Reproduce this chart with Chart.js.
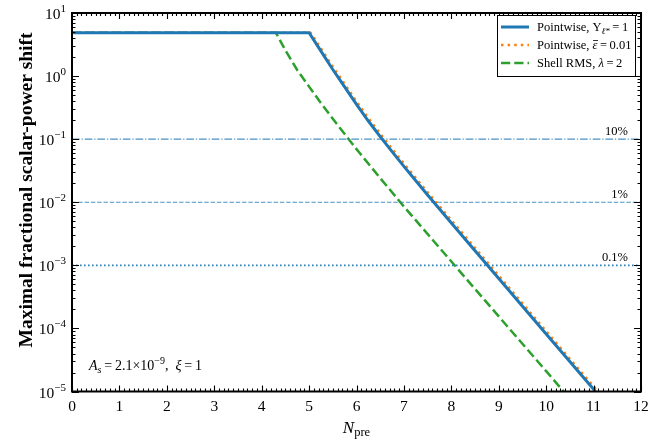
<!DOCTYPE html>
<html>
<head>
<meta charset="utf-8">
<script src="https://cdn.jsdelivr.net/npm/chart.js@4.4.0/dist/chart.umd.min.js"></script>
<style>
  html, body { margin: 0; padding: 0; background: #fff; }
  #wrap { width: 672px; height: 441px; position: relative; }
</style>
</head>
<body>
<div id="wrap"><canvas id="chart"></canvas></div>
<script>
// --- data ---
const pointwiseX = [0, 5.0, 5.25, 5.5, 5.75, 6.0, 6.25, 6.5, 6.75, 7.0, 7.5, 8.0, 9.0, 10.0, 11.04];
const pointwiseY = [4.88, 4.88, 2.49, 1.27, 0.676, 0.357, 0.194, 0.110, 0.0636, 0.037, 0.0130, 0.0047, 6.19e-4, 8.17e-5, 1.0e-5];

const epsX = [0, 5.03, 5.25, 5.5, 5.75, 6.0, 6.25, 6.5, 6.75, 7.0, 7.5, 8.0, 9.0, 10.0, 11.09];
const epsY = [4.88, 4.88, 2.74, 1.41, 0.75, 0.396, 0.215, 0.122, 0.0705, 0.041, 0.0144, 0.0052, 6.86e-4, 9.05e-5, 1.0e-5];

const shellX = [0, 4.3, 4.5, 4.75, 5.0, 5.25, 5.5, 6.0, 6.5, 7.0, 8.0, 9.0, 10.0, 10.37];
const shellY = [4.88, 4.88, 2.56, 1.25, 0.681, 0.374, 0.210, 0.0695, 0.0241, 0.00855, 0.00115, 1.55e-4, 2.1e-5, 1.0e-5];

const refLevels = [0.1, 0.01, 0.001];
const refLabels = ['10%', '1%', '0.1%'];
const refRangeX = [0, 12];

const xTicks = [0, 1, 2, 3, 4, 5, 6, 7, 8, 9, 10, 11, 12];
const yExponents = [1, 0, -1, -2, -3, -4, -5];

const legendLabels = ['Pointwise, Υ', 'Pointwise, ', 'Shell RMS, '];

const SERIF = '"Liberation Serif", "Times New Roman", serif';
const BLUE = '#1f77b4', ORANGE = '#ff7f0e', GREEN = '#2ca02c';

const pts = (xs, ys) => xs.map((x, i) => ({ x: x, y: ys[i] }));

const refStyles = [[7.7, 1.9, 1.2, 1.9], [4.4, 1.9], [1.6, 2.4]];
const refSets = refLevels.map((lv, i) => ({
    data: refRangeX.map(x => ({ x: x, y: lv })),
    borderColor: i === 2 ? 'rgba(31,119,180,0.95)' : 'rgba(31,119,180,0.8)',
    borderWidth: i === 2 ? 1.7 : 1.2,
    borderDash: refStyles[i],
    pointRadius: 0,
    fill: false
}));

// draw a run of text pieces (font, dy) starting at x
function drawRuns(ctx, x, y, parts, align) {
    let w = 0;
    parts.forEach(p => { ctx.font = p.f; w += ctx.measureText(p.t).width; });
    let cx = align === 'right' ? x - w : align === 'center' ? x - w / 2 : x;
    const starts = [];
    parts.forEach(p => {
        ctx.font = p.f;
        starts.push(cx);
        ctx.fillText(p.t, cx, y + (p.dy || 0));
        cx += ctx.measureText(p.t).width;
    });
    return starts;
}

const decor = {
    id: 'decor',
    afterDraw(chart) {
        const { ctx, chartArea: a, scales: { x, y } } = chart;
        ctx.save();
        ctx.strokeStyle = '#000';
        ctx.fillStyle = '#000';

        // inward ticks on all four sides
        ctx.lineWidth = 1.1;
        ctx.beginPath();
        for (let i = 0; i <= 120; i++) {
            const v = i / 10;
            const px = Math.round(x.getPixelForValue(v)) + 0.5;
            const len = i % 10 === 0 ? 6 : 3;
            ctx.moveTo(px, a.bottom); ctx.lineTo(px, a.bottom - len);
            ctx.moveTo(px, a.top); ctx.lineTo(px, a.top + len);
        }
        for (let e = -5; e <= 1; e++) {
            for (let m = 1; m <= 9; m++) {
                const v = m * Math.pow(10, e);
                if (v > 10.0001) break;
                const py = Math.round(y.getPixelForValue(v)) + 0.5;
                const len = m === 1 ? 7 : 3.5;
                ctx.moveTo(a.left, py); ctx.lineTo(a.left + len, py);
                ctx.moveTo(a.right, py); ctx.lineTo(a.right - len, py);
            }
        }
        ctx.stroke();

        // frame
        ctx.lineWidth = 2;
        ctx.strokeRect(a.left, a.top, a.right - a.left, a.bottom - a.top);

        // x tick labels
        ctx.textBaseline = 'alphabetic';
        ctx.textAlign = 'left';
        xTicks.forEach(v => {
            drawRuns(ctx, x.getPixelForValue(v), a.bottom + 19, [{ t: String(v), f: '15.5px ' + SERIF }], 'center');
        });

        // y tick labels 10^k
        yExponents.forEach(e => {
            const py = y.getPixelForValue(Math.pow(10, e));
            const ex = e < 0 ? '\u2212' + Math.abs(e) : String(e);
            drawRuns(ctx, 66, py + 6, [
                { t: '10', f: '15.5px ' + SERIF },
                { t: ex, f: '11px ' + SERIF, dy: -7 }
            ], 'right');
        });

        // axis titles
        drawRuns(ctx, (a.left + a.right) / 2, 433, [
            { t: 'N', f: 'italic 17px ' + SERIF },
            { t: 'pre', f: '12.5px ' + SERIF, dy: 3 }
        ], 'center');

        ctx.save();
        ctx.translate(27, 190);
        ctx.rotate(-Math.PI / 2);
        ctx.textAlign = 'center';
        ctx.textBaseline = 'middle';
        ctx.font = 'bold 19.5px ' + SERIF;
        ctx.fillText('Maximal fractional scalar-power shift', 0, 0);
        ctx.restore();

        // reference line labels
        refLevels.forEach((lv, i) => {
            const py = y.getPixelForValue(lv);
            drawRuns(ctx, 628, py - 4, [{ t: refLabels[i], f: '12.5px ' + SERIF }], 'right');
        });

        // parameters note
        drawRuns(ctx, 89, 370, [
            { t: 'A', f: 'italic 14px ' + SERIF },
            { t: 's', f: 'italic 10px ' + SERIF, dy: 3 },
            { t: '\u2009=\u20092.1\u00d710', f: '14px ' + SERIF },
            { t: '\u22129', f: '10px ' + SERIF, dy: -6 },
            { t: ',\u2002', f: '14px ' + SERIF },
            { t: 'ξ', f: 'italic 14px ' + SERIF },
            { t: '\u2009=\u20091', f: '14px ' + SERIF }
        ], 'left');

        // legend
        const lx = 497.5, ly = 15.5, lw = 138, lh = 61;
        ctx.fillStyle = '#fff';
        ctx.fillRect(lx, ly, lw, lh);
        ctx.strokeStyle = '#000';
        ctx.lineWidth = 1;
        ctx.strokeRect(lx, ly, lw, lh);
        const rows = [27, 45, 63];
        const samples = [
            { c: BLUE, w: 3, d: [] },
            { c: ORANGE, w: 2.5, d: [2.5, 4.1] },
            { c: GREEN, w: 2.5, d: [9.25, 4] }
        ];
        rows.forEach((ry, i) => {
            ctx.beginPath();
            ctx.strokeStyle = samples[i].c;
            ctx.lineWidth = samples[i].w;
            ctx.setLineDash(samples[i].d);
            ctx.moveTo(501, ry); ctx.lineTo(529, ry);
            ctx.stroke();
        });
        ctx.setLineDash([]);
        ctx.fillStyle = '#000';
        const F = '12.5px ' + SERIF, FI = 'italic 12.5px ' + SERIF;
        drawRuns(ctx, 537, rows[0] + 4, [
            { t: legendLabels[0], f: F },
            { t: 'ℓ*', f: 'italic 9px ' + SERIF, dy: 3 },
            { t: '\u2009=\u20091', f: F }
        ], 'left');
        const s2 = drawRuns(ctx, 537, rows[1] + 4, [
            { t: legendLabels[1], f: F },
            { t: 'ε', f: FI },
            { t: '\u2009=\u20090.01', f: F }
        ], 'left');
        // overbar on epsilon
        ctx.font = FI;
        const ew = ctx.measureText('ε').width;
        ctx.lineWidth = 0.8;
        ctx.strokeStyle = '#000';
        ctx.beginPath();
        ctx.moveTo(s2[1] + 0.5, rows[1] - 4.5); ctx.lineTo(s2[1] + ew + 0.5, rows[1] - 4.5);
        ctx.stroke();
        drawRuns(ctx, 537, rows[2] + 4, [
            { t: legendLabels[2], f: F },
            { t: 'λ', f: FI },
            { t: '\u2009=\u20092', f: F }
        ], 'left');

        ctx.restore();
    }
};

new Chart(document.getElementById('chart'), {
    type: 'line',
    data: {
        datasets: [
            ...refSets,
            {
                label: 'Pointwise',
                data: pts(pointwiseX, pointwiseY),
                borderColor: BLUE,
                borderWidth: 3,
                pointRadius: 0,
                tension: 0,
                fill: false
            },
            {
                label: 'Pointwise eps',
                data: pts(epsX, epsY),
                borderColor: ORANGE,
                borderWidth: 2.5,
                borderDash: [2.5, 4.1],
                pointRadius: 0,
                tension: 0,
                fill: false
            },
            {
                label: 'Shell RMS',
                data: pts(shellX, shellY),
                borderColor: GREEN,
                borderWidth: 2.5,
                borderDash: [9.25, 4],
                pointRadius: 0,
                tension: 0,
                fill: false
            }
        ]
    },
    options: {
        responsive: true,
        maintainAspectRatio: false,
        animation: false,
        devicePixelRatio: 1,
        layout: { padding: { left: 72, right: 31, top: 13, bottom: 49.5 } },
        plugins: { legend: { display: false }, tooltip: { enabled: false } },
        scales: {
            x: { type: 'linear', min: 0, max: 12, display: false },
            y: { type: 'logarithmic', min: 1e-5, max: 10, display: false }
        }
    },
    plugins: [decor]
});
</script>
</body>
</html>
